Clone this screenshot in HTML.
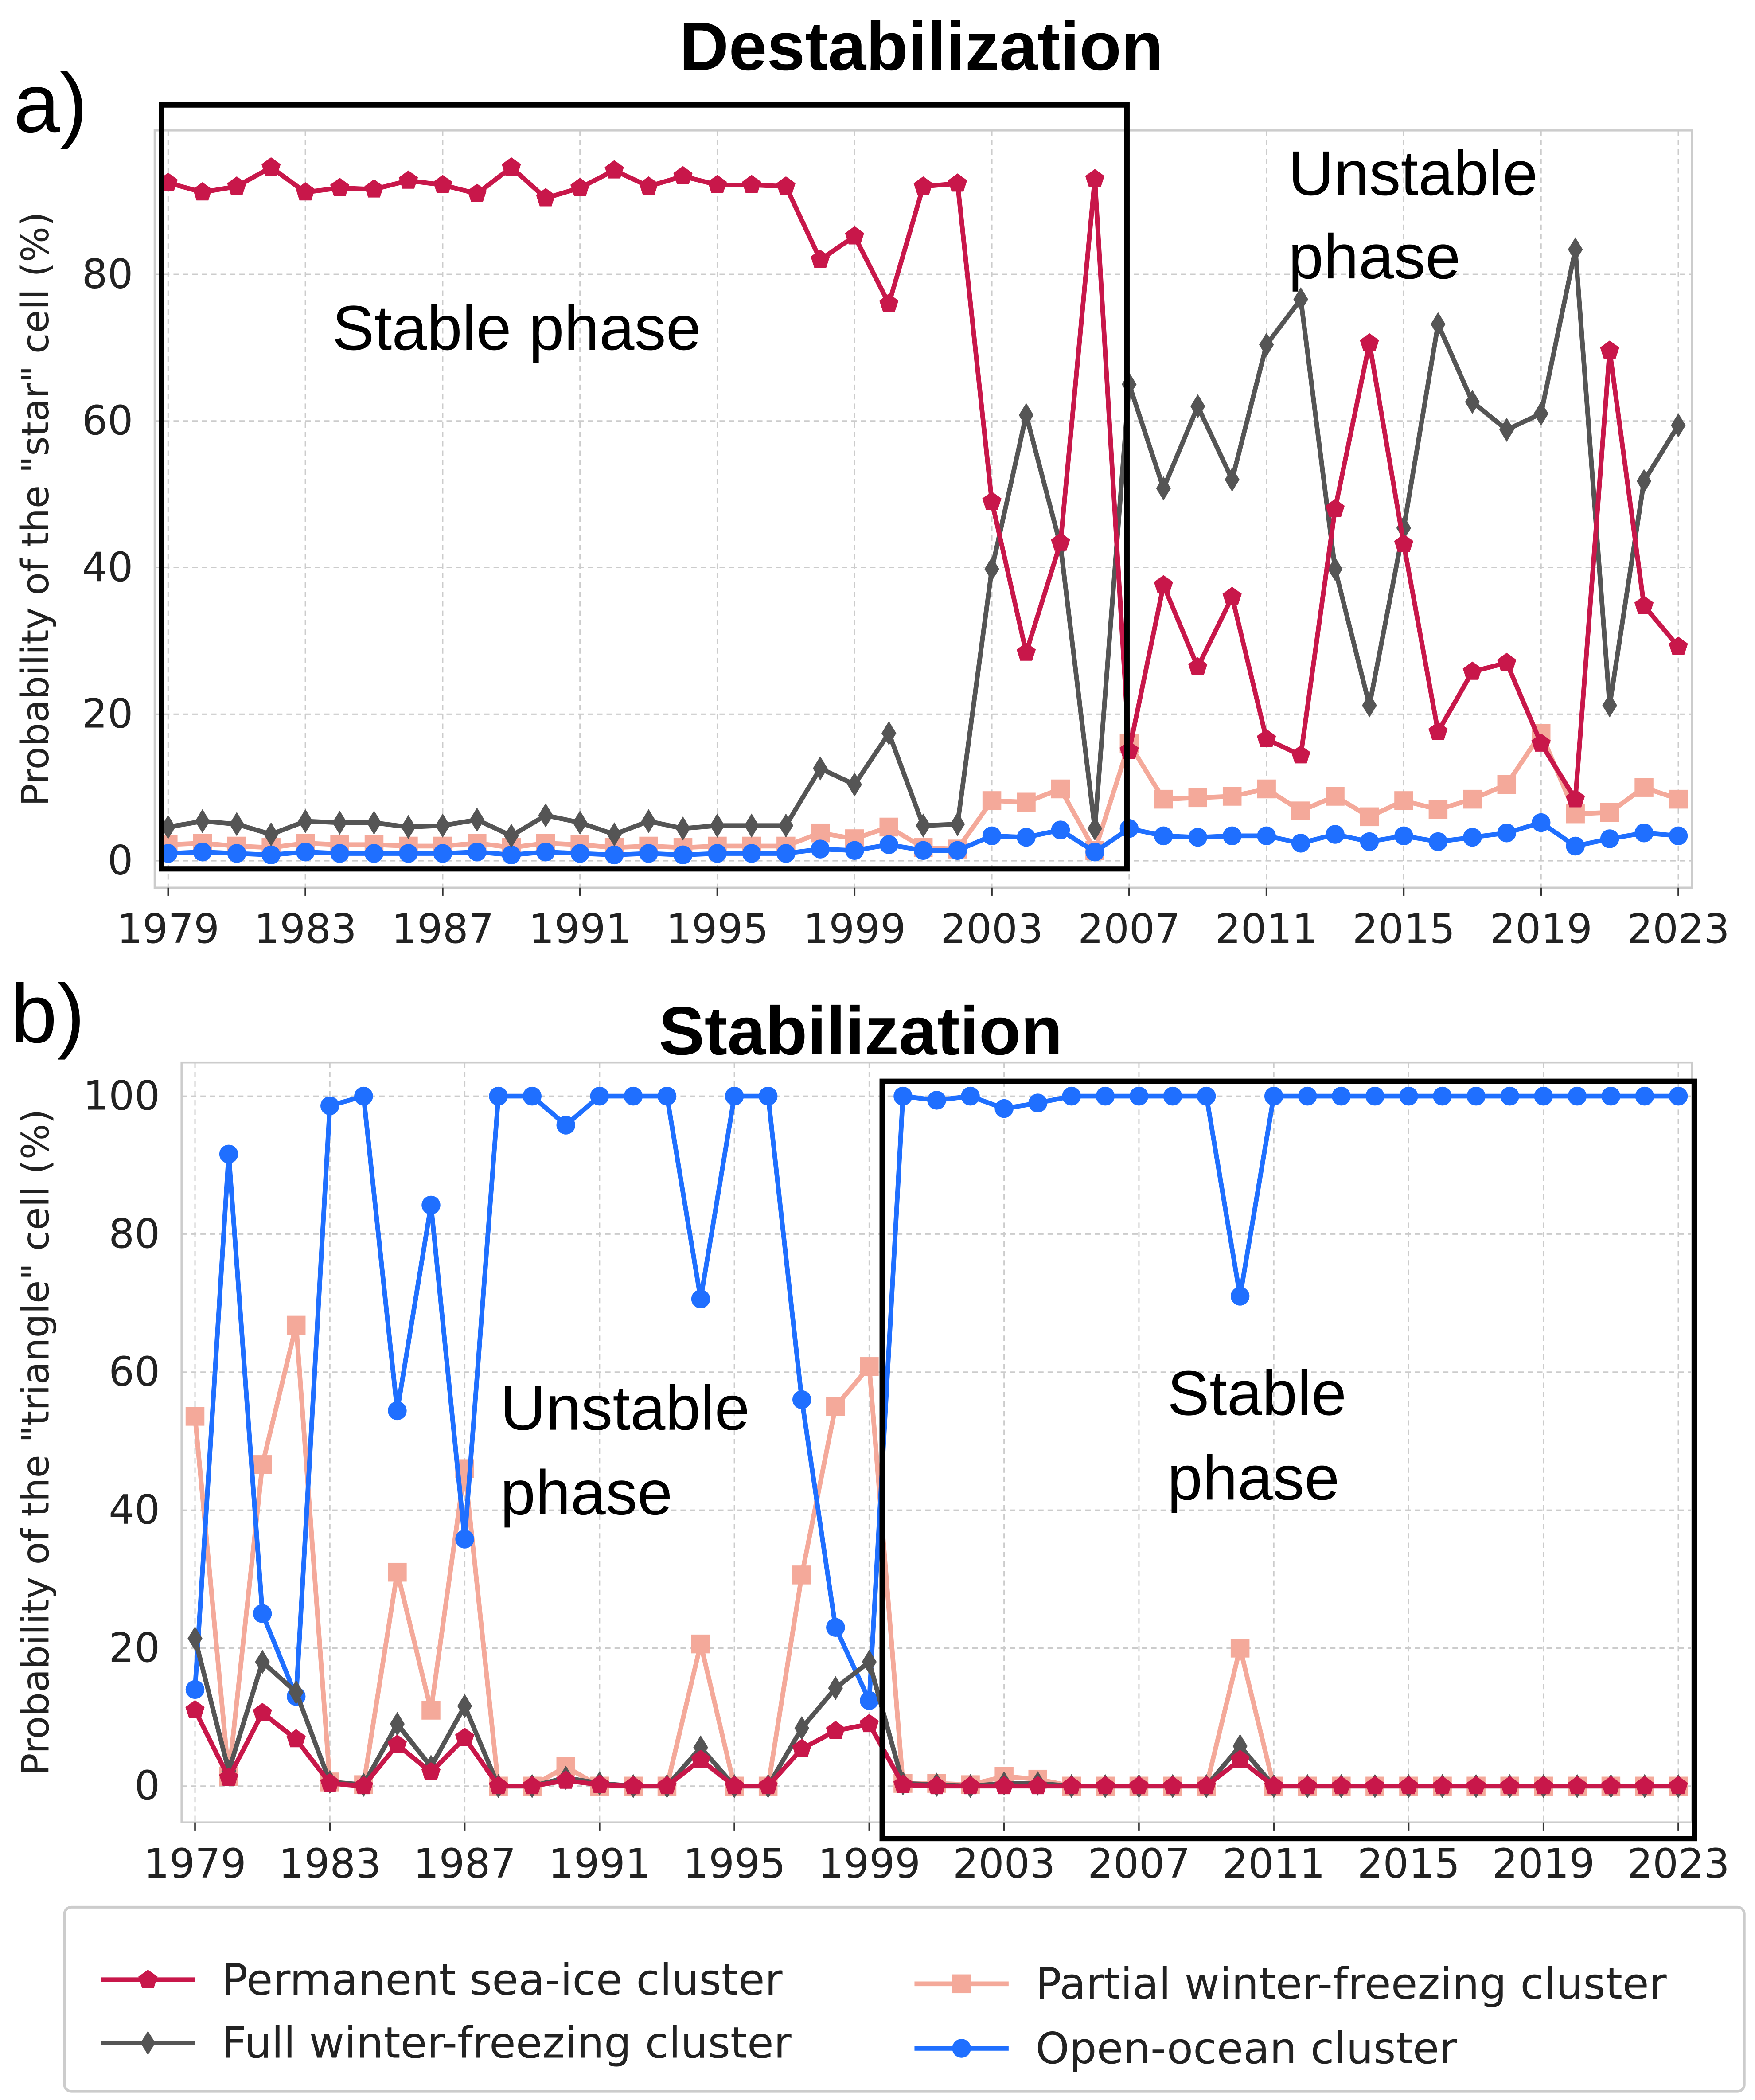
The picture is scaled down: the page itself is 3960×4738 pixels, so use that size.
<!DOCTYPE html>
<html><head><meta charset="utf-8"><style>
html,body{margin:0;padding:0;background:#fff}
svg{display:block}
text{font-family:"DejaVu Sans","Liberation Sans",sans-serif}
.big{font-family:"Liberation Sans","DejaVu Sans",sans-serif}
</style></head><body>
<svg id="fig" xmlns="http://www.w3.org/2000/svg" width="3960" height="4738" viewBox="0 0 1305 1561.4">
<rect width="1305" height="1562" fill="#fff"/>
<g id="pa"></g>
<g id="pb"></g>
<text x="685" y="52" text-anchor="middle" font-size="51" font-weight="bold" class="big">Destabilization</text>
<text x="10" y="98" font-size="62" class="big">a)</text>
<text x="640" y="784" text-anchor="middle" font-size="51" font-weight="bold" class="big">Stabilization</text>
<text x="8" y="775" font-size="62" class="big">b)</text>
<text x="247" y="260" font-size="47" class="big">Stable phase</text>
<text x="958" y="145" font-size="47" class="big">Unstable</text>
<text x="958" y="207" font-size="47" class="big">phase</text>
<text x="372" y="1063" font-size="47" class="big">Unstable</text>
<text x="372" y="1126" font-size="47" class="big">phase</text>
<text x="868" y="1052" font-size="47" class="big">Stable</text>
<text x="868" y="1115" font-size="47" class="big">phase</text>
<rect x="120" y="78" width="718" height="568" fill="none" stroke="#000" stroke-width="4"/>
<rect x="656" y="804" width="604" height="563" fill="none" stroke="#000" stroke-width="4"/>
<g id="legend"></g>
</svg>
<script>
const years=[];for(let y=1979;y<=2023;y++)years.push(y);
const aPermanent=[92.5,91.2,92,94.6,91.2,91.8,91.6,92.8,92.2,91,94.6,90.4,91.8,94.2,92,93.4,92.2,92.2,92,82,85.2,76,92,92.4,49,28.4,43.4,93,15,37.6,26.4,36,16.6,14.4,48,70.6,43.2,17.6,25.8,27,16,8.4,69.6,34.8,29.2];
const aFull=[4.6,5.4,5,3.6,5.4,5.2,5.2,4.6,4.8,5.6,3.4,6.2,5.2,3.6,5.4,4.4,4.8,4.8,4.8,12.6,10.4,17.4,4.8,5,39.8,60.8,43,4.4,65,50.8,62,52,70.4,76.6,39.8,21.2,45.4,73.2,62.6,58.8,61,83.4,21.2,51.8,59.4];
const aPartial=[2.2,2.4,2,1.8,2.4,2.2,2.2,2,2,2.4,1.8,2.4,2.2,1.8,2,1.8,2,2,2,3.8,3,4.6,1.8,1.6,8.2,8,9.8,1.4,16,8.4,8.6,8.8,9.8,6.8,8.8,6,8.2,7,8.4,10.4,17.4,6.4,6.6,10,8.4];
const aOpen=[1,1.2,1,0.8,1.2,1,1,1,1,1.2,0.8,1.2,1,0.8,1,0.8,1,1,1,1.6,1.4,2.2,1.4,1.4,3.4,3.2,4.2,1.2,4.4,3.4,3.2,3.4,3.4,2.4,3.6,2.6,3.4,2.6,3.2,3.8,5.2,2,3,3.8,3.4];
const bOpen=[14,91.6,25,13,98.6,100,54.4,84.2,35.8,100,100,95.8,100,100,100,70.6,100,100,56,23,12.4,100,99.4,100,98.2,99,100,100,100,100,100,71,100,100,100,100,100,100,100,100,100,100,100,100,100];
const bPartial=[53.6,1.4,46.6,66.8,0.6,0.2,31,11,46,0,0,2.8,0,0,0,20.6,0,0,30.6,55,60.8,0.4,0.4,0.2,1.4,1,0,0,0,0,0,20,0,0,0,0,0,0,0,0,0,0,0,0,0];
const bFull=[21.4,2.2,18,13.6,0.6,0.2,9,2.8,11.6,0,0,1.2,0.4,0,0,5.6,0,0,8.4,14.2,18,0.4,0.2,0,0.4,0.4,0,0,0,0,0,5.8,0,0,0,0,0,0,0,0,0,0,0,0,0];
const bPermanent=[11,1.2,10.6,6.8,0.4,0,6,2,7,0,0,0.8,0.2,0,0,3.8,0,0,5.4,8,9,0.2,0,0,0,0,0,0,0,0,0,3.8,0,0,0,0,0,0,0,0,0,0,0,0,0];
const xTicks=[1979,1983,1987,1991,1995,1999,2003,2007,2011,2015,2019,2023];
const yTicksA=[0,20,40,60,80];
const yTicksB=[0,20,40,60,80,100];
const NS="http://www.w3.org/2000/svg";
const COL={perm:"#c8174a",full:"#555555",part:"#f4a99a",open:"#1f6fff"};
function el(t,a,p){const e=document.createElementNS(NS,t);for(const k in a)e.setAttribute(k,a[k]);p.appendChild(e);return e;}
function marker(kind,x,y,c,g){
 let m;
 if(kind==="perm"){let pts=[];for(let i=0;i<5;i++){const an=-Math.PI/2+i*2*Math.PI/5;pts.push((x+7.5*Math.cos(an)).toFixed(2)+","+(y+7.5*Math.sin(an)).toFixed(2));}
  m=el("polygon",{points:pts.join(" "),fill:c},g);}
 else if(kind==="full"){m=el("polygon",{points:`${x},${y-9} ${x+5.5},${y} ${x},${y+9} ${x-5.5},${y}`,fill:c},g);}
 else if(kind==="part"){m=el("rect",{x:x-7,y:y-7,width:14,height:14,fill:c},g);}
 else {m=el("circle",{cx:x,cy:y,r:7,fill:c},g);}
 
 
}
function panel(g,cfg){
 const X=v=>cfg.x0+(v-1979)*cfg.dx;
 const Y=v=>cfg.y0-v*cfg.dy;
 const fr=el("rect",{x:cfg.l,y:cfg.t,width:cfg.r-cfg.l,height:cfg.b-cfg.t,fill:"none",stroke:"#ccc","stroke-width":1.5},g);
 
 
 xTicks.forEach(t=>{
  const ln=el("line",{x1:X(t),x2:X(t),y1:cfg.t,y2:cfg.b,stroke:"#ccc","stroke-dasharray":"4,3","stroke-width":1},g);
  
  
  const tk=el("line",{x1:X(t),x2:X(t),y1:cfg.b,y2:cfg.b+6,stroke:"#333","stroke-width":1.2},g);
  
  
  const tx=el("text",{x:X(t),y:cfg.b+41,"text-anchor":"middle","font-size":30,fill:"#222"},g);tx.textContent=t;
  
  
 });
 cfg.yt.forEach(t=>{
  const ln=el("line",{x1:cfg.l,x2:cfg.r,y1:Y(t),y2:Y(t),stroke:"#ccc","stroke-dasharray":"4,3","stroke-width":1},g);
  
  
  const tx=el("text",{x:cfg.l-16,y:Y(t)+10,"text-anchor":"end","font-size":30,fill:"#222"},g);tx.textContent=t;
  
  
 });
 const yt=el("text",{x:36,y:(cfg.t+cfg.b)/2,"text-anchor":"middle","font-size":28,fill:"#222",transform:`rotate(-90 36 ${(cfg.t+cfg.b)/2})`},g);
 yt.textContent=cfg.ylab;
 
 
 cfg.series.forEach(([kind,arr])=>{
  const sg=el("g",{},g);
  
  
  const d=arr.map((v,i)=>(i?"L":"M")+X(years[i]).toFixed(2)+","+Y(v).toFixed(2)).join("");
  const p=el("path",{d:d,fill:"none",stroke:COL[kind],"stroke-width":3.5,"stroke-linejoin":"round"},sg);
  
  
  arr.forEach((v,i)=>marker(kind,X(years[i]),Y(v),COL[kind],sg));
 });
}
panel(document.getElementById("pa"),{x0:125,dx:(1248-125)/44,y0:640,dy:5.45,l:115,r:1258,t:97,b:660,yt:yTicksA,ylab:'Probability of the "star" cell (%)',
 series:[["part",aPartial],["open",aOpen],["full",aFull],["perm",aPermanent]]});
panel(document.getElementById("pb"),{x0:145,dx:(1248-145)/44,y0:1328,dy:5.13,l:135,r:1258,t:790,b:1355,yt:yTicksB,ylab:'Probability of the "triangle" cell (%)',
 series:[["part",bPartial],["open",bOpen],["full",bFull],["perm",bPermanent]]});
const lg=document.getElementById("legend");
const box=el("rect",{x:48,y:1418,width:1249,height:137,rx:5,fill:"#fff",stroke:"#ccc","stroke-width":2},lg);


[["perm","Permanent sea-ice cluster",75,1472],["full","Full winter-freezing cluster",75,1519],["part","Partial winter-freezing cluster",680,1475],["open","Open-ocean cluster",680,1523]].forEach(([k,lab,x,y])=>{
 const eg=el("g",{},lg);
 
 
 el("line",{x1:x,x2:x+70,y1:y,y2:y,stroke:COL[k],"stroke-width":3.5},eg);
 marker(k,x+35,y,COL[k],eg);
 const t=el("text",{x:x+90,y:y+11,"font-size":32,fill:"#222"},eg);t.textContent=lab;
});
</script>
</body></html>
